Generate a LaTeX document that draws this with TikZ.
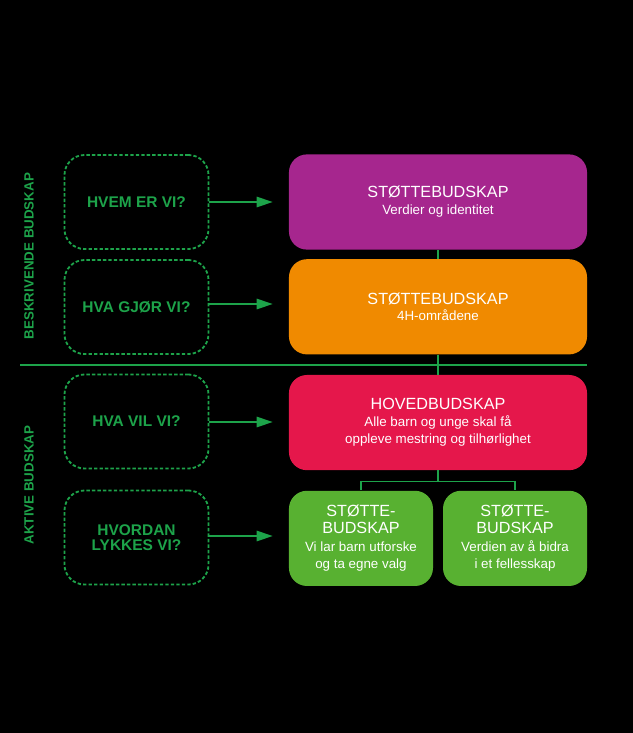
\documentclass[tikz,border=0pt]{standalone}
\usepackage{fontspec}
\setmainfont{Liberation Sans}
\usepackage{tikz}
\usetikzlibrary{arrows.meta,positioning,calc}
\definecolor{fhgreen}{HTML}{1DA34A}
\definecolor{fhmagenta}{HTML}{A6268E}
\definecolor{fhorange}{HTML}{F08A00}
\definecolor{fhred}{HTML}{E5174B}
\definecolor{fhlime}{HTML}{58B131}
\newcommand{\msgtitle}{\fontsize{11.5}{10.7}\selectfont}
\newcommand{\msgsub}{\fontsize{9.5}{10.7}\selectfont}
\newcommand{\smsgsub}{\fontsize{9.5}{8.3}\selectfont}
\tikzset{
  qbox/.style  ={rectangle, rounded corners=0.5cm, draw=fhgreen, line width=1.3pt,
                 dash pattern=on 2.4pt off 1.5pt, minimum width=3.6cm,
                 minimum height=2.35cm, align=center, text=fhgreen,
                 font=\fontsize{11}{11}\selectfont\bfseries},
  msg/.style   ={rectangle, rounded corners=0.45cm, minimum width=7.45cm,
                 minimum height=2.38cm, align=center, text=white},
  smsg/.style  ={msg, fill=fhlime, minimum width=3.6cm},
  ar/.style    ={-{Triangle[length=0.4cm,width=0.26cm]}, line width=1.1pt, draw=fhgreen},
  link/.style  ={line width=1pt, draw=fhgreen},
  sep/.style   ={line width=1.6pt, draw=fhgreen},
  side/.style  ={rotate=90, text=fhgreen, font=\fontsize{9.5}{9.5}\selectfont\bfseries}
}
\begin{document}
\begin{tikzpicture}[x=0.025cm, y=-0.025cm]
\useasboundingbox[fill=black] (0,0) rectangle (633,733);
% right column
\node[msg, fill=fhmagenta] (verdier) at (438,202)
  {\msgtitle STØTTEBUDSKAP\\\msgsub Verdier og identitet};
\node[msg, fill=fhorange, below=0.225cm of verdier] (omrader)
  {\msgtitle STØTTEBUDSKAP\\\msgsub 4H-områdene};
\node[msg, fill=fhred, below=0.5cm of omrader] (hoved)
  {\msgtitle HOVEDBUDSKAP\\\msgsub Alle barn og unge skal få\\\msgsub oppleve mestring og tilhørlighet};
\node[smsg, below=0.5cm of hoved.south west, anchor=north west] (utforske)
  {\msgtitle STØTTE-\\\msgtitle BUDSKAP\\[1pt]\smsgsub Vi lar barn utforske\\\smsgsub og ta egne valg};
\node[smsg, below=0.5cm of hoved.south east, anchor=north east] (felles)
  {\msgtitle STØTTE-\\\msgtitle BUDSKAP\\[1pt]\smsgsub Verdien av å bidra\\\smsgsub i et fellesskap};
% left column
\node[qbox] (hvem) at (136.5,202) {HVEM ER VI?};
\node[qbox] (gjor) at (136.5,307) {HVA GJØR VI?};
\node[qbox] (vil) at (136.5,421.5) {HVA VIL VI?};
\node[qbox] (hvordan) at (136.5,537.5) {HVORDAN\\LYKKES VI?};
\draw[ar] (hvem.east) -- ([xshift=-0.4cm]verdier.west |- hvem.east);
\draw[ar] (gjor.east |- 0,304) -- ([xshift=-0.4cm]omrader.west |- 0,304);
\draw[ar] (vil.east |- 0,422) -- ([xshift=-0.4cm]hoved.west |- 0,422);
\draw[ar] (hvordan.east |- 0,536) -- ([xshift=-0.4cm]utforske.west |- 0,536);
% links
\coordinate (mid) at ($(omrader.south)!0.5!(hoved.north)$);
\draw[link] (verdier.south) -- (omrader.north);
\draw[link] (omrader.south) -- (hoved.north);
\draw[sep] (mid -| 20,0) -- (mid -| hoved.east);
\draw[link] (hoved.south) -- ++(0,11) coordinate (fork);
\draw[link] (fork) -| (utforske.north);
\draw[link] (fork) -| (felles.north);
% side labels
\node[side] (beskr) at (29,256) {BESKRIVENDE BUDSKAP};
\node[side] (aktive) at (29,485) {AKTIVE BUDSKAP};
\end{tikzpicture}
\end{document}
